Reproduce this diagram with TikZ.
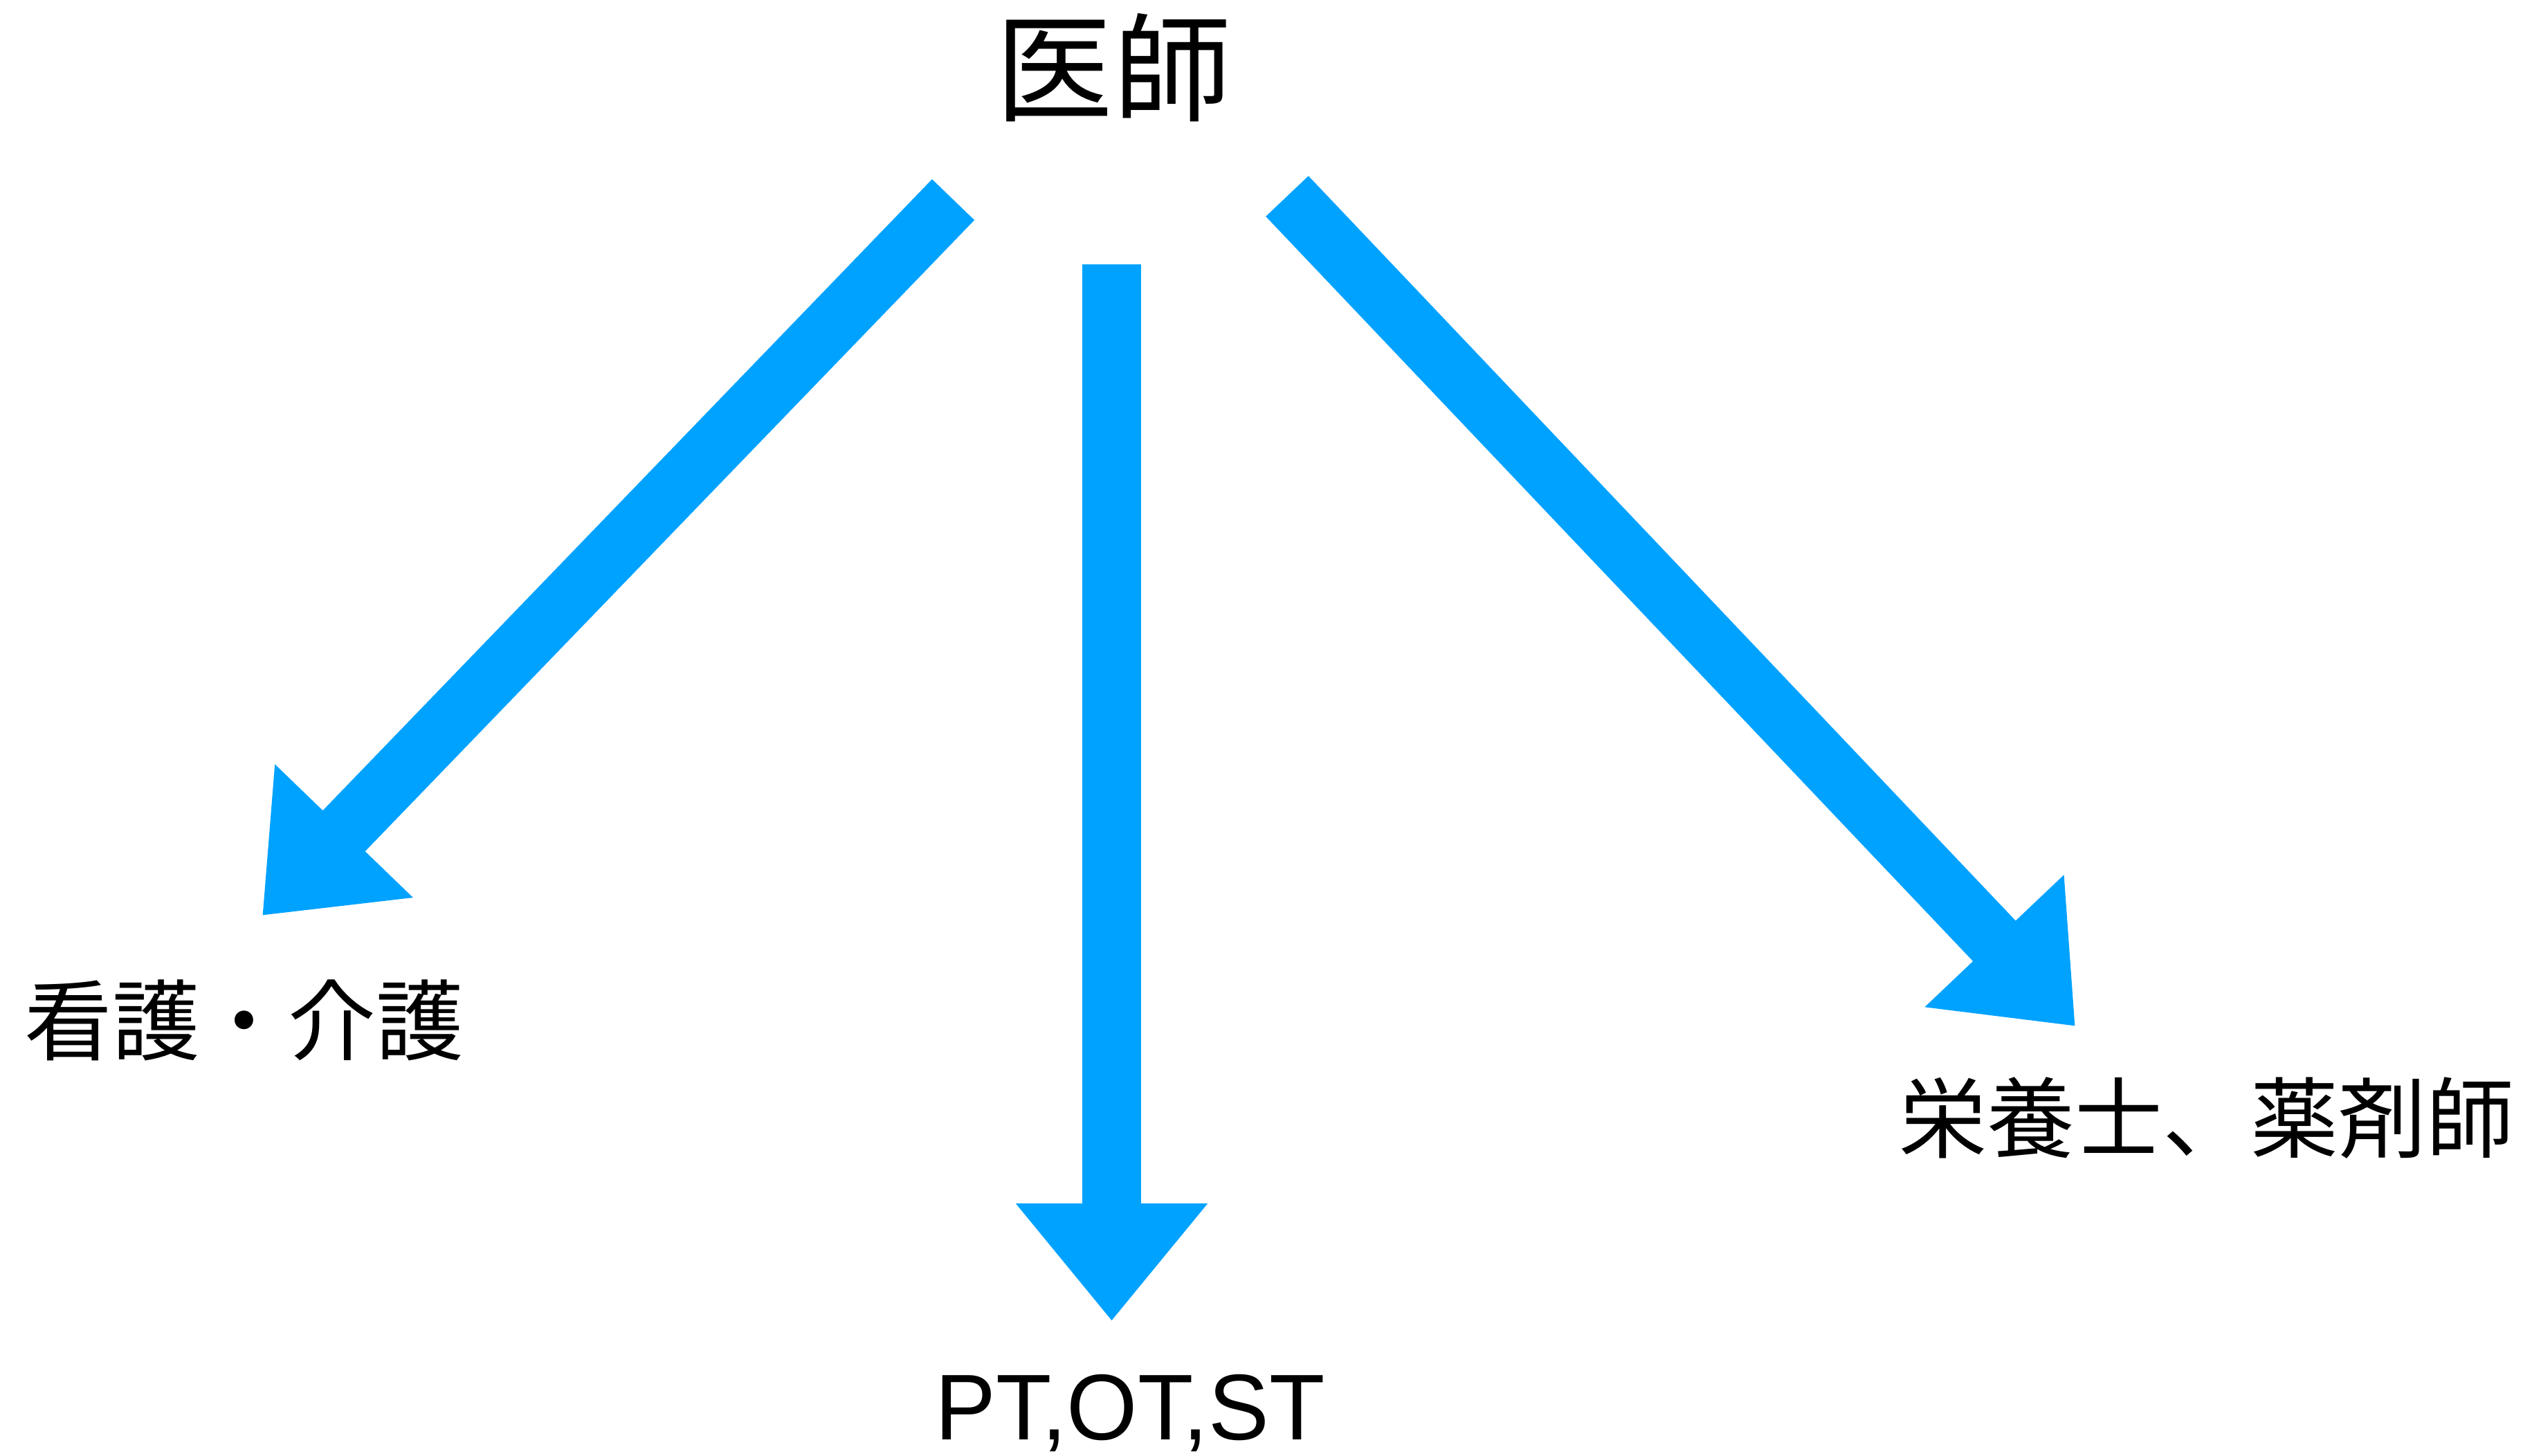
\documentclass[tikz,border=0pt]{standalone}
\usepackage{fontspec}
\setmainfont{Liberation Sans}
\newfontfamily\jp{Noto Sans CJK JP}
\usetikzlibrary{arrows.meta}
\definecolor{arrowblue}{RGB}{0,162,255}
\begin{document}
\begin{tikzpicture}[
  bigarrow/.style={draw=arrowblue, line width=0.85cm, -{Triangle[length=1.7cm,width=2.66cm]}},
  lbl/.style={inner sep=0pt, anchor=base}
]
\useasboundingbox[fill=white] (0,0) rectangle (36.72,-21.03);
% labels
\node[lbl] (doc) at (16.09,-1.62) {\jp\fontsize{48.4pt}{50pt}\selectfont 医師};
\node[lbl] (nurse) at (3.53,-15.22) {\jp\fontsize{36.1pt}{38pt}\selectfont 看護・介護};
\node[lbl, xscale=0.975] (rehab) at (16.33,-20.80) {\fontsize{38.4pt}{40pt}\selectfont PT,OT,ST};
\node[lbl] (diet) at (31.89,-16.63) {\jp\fontsize{36.1pt}{38pt}\selectfont 栄養士、薬剤師};
% arrow end points
\coordinate (lt) at (13.775,-2.885);
\coordinate (lh) at (3.79,-13.23);
\coordinate (mt) at (16.065,-3.82);
\coordinate (mh) at (16.065,-19.09);
\coordinate (rt) at (18.60,-2.835);
\coordinate (rh) at (29.99,-14.83);
\draw[bigarrow] (lt) -- (lh);
\draw[bigarrow] (mt) -- (mh);
\draw[bigarrow] (rt) -- (rh);
\end{tikzpicture}
\end{document}
